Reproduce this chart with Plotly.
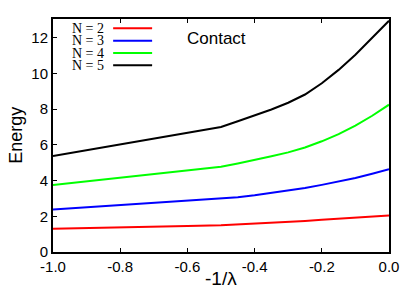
import plotly.graph_objects as go

# Data
x_vals = [-1.0, -0.9, -0.8, -0.7, -0.6, -0.5, -0.45, -0.4, -0.35, -0.3, -0.25, -0.2, -0.15, -0.1, -0.05, 0.0]
e_n2 = [1.30, 1.33, 1.37, 1.41, 1.45, 1.50, 1.54, 1.59, 1.64, 1.69, 1.74, 1.80, 1.86, 1.92, 1.98, 2.04]
e_n3 = [2.38, 2.50, 2.61, 2.73, 2.85, 2.97, 3.07, 3.18, 3.30, 3.43, 3.58, 3.76, 3.95, 4.15, 4.38, 4.63]
e_n4 = [3.75, 3.95, 4.15, 4.35, 4.56, 4.78, 4.96, 5.15, 5.36, 5.58, 5.85, 6.20, 6.60, 7.08, 7.63, 8.25]
e_n5 = [5.38, 5.71, 6.04, 6.36, 6.69, 7.00, 7.32, 7.64, 7.98, 8.36, 8.82, 9.45, 10.20, 11.05, 11.98, 12.95]

series_names = ["N = 2", "N = 3", "N = 4", "N = 5"]
series_values = [e_n2, e_n3, e_n4, e_n5]
series_colors = ["#ff0000", "#0000ff", "#00ff00", "#000000"]

x_tickvals = [-1.0, -0.8, -0.6, -0.4, -0.2, 0.0]
x_ticktext = ["-1.0", "-0.8", "-0.6", "-0.4", "-0.2", "0.0"]
y_tickvals = [0, 2, 4, 6, 8, 10, 12]
y_ticktext = ["0", "2", "4", "6", "8", "10", "12"]

fig = go.Figure()
for name, vals, col in zip(series_names, series_values, series_colors):
    fig.add_trace(go.Scatter(x=x_vals, y=vals, mode="lines", name=name,
                             line=dict(color=col, width=2), showlegend=False))

sans = "Liberation Sans, Arial, sans-serif"
serif = "Liberation Serif, Times New Roman, serif"

# gnuplot-style legend: text on left, line sample on right
annotations = []
shapes = []
row_y = [0.960, 0.907, 0.854, 0.801]
for name, col, yy in zip(series_names, series_colors, row_y):
    annotations.append(dict(x=0.155, y=yy, xref="paper", yref="paper", text=name,
                            showarrow=False, xanchor="right", yanchor="middle",
                            borderpad=0,
                            font=dict(family=serif, size=14, color="black")))
    shapes.append(dict(type="line", xref="paper", yref="paper", x0=0.179, x1=0.295,
                       y0=yy, y1=yy, line=dict(color=col, width=2)))

annotations.append(dict(x=0.488, y=0.918, xref="paper", yref="paper", text="Contact",
                        showarrow=False, xanchor="center", yanchor="middle",
                        font=dict(family=sans, size=17, color="black")))
annotations.append(dict(x=0.5, y=-0.112, xref="paper", yref="paper", text="-1/λ",
                        showarrow=False, xanchor="center", yanchor="middle",
                        font=dict(family=sans, size=19, color="black")))
annotations.append(dict(x=-0.112, y=0.5, xref="paper", yref="paper", text="Energy",
                        showarrow=False, xanchor="center", yanchor="middle", textangle=-90,
                        borderpad=0,
                        font=dict(family=sans, size=18, color="black")))

# page body has an 8px margin, so margins are compensated
fig.update_layout(
    width=415, height=291,
    margin=dict(l=45, r=34, t=9, b=47, pad=0),
    paper_bgcolor="white", plot_bgcolor="white",
    annotations=annotations, shapes=shapes,
    font=dict(family=sans, size=15, color="black"),
)
fig.update_xaxes(range=[-1.0, 0.0], tickvals=x_tickvals, ticktext=x_ticktext,
                 ticks="inside", ticklen=4, tickwidth=1, tickcolor="black",
                 showline=True, linecolor="black", linewidth=2, mirror="ticks",
                 showgrid=False, zeroline=False,
                 tickfont=dict(family=sans, size=15, color="black"))
fig.update_yaxes(range=[0, 13.05], tickvals=y_tickvals, ticktext=y_ticktext,
                 ticks="inside", ticklen=4, tickwidth=1, tickcolor="black",
                 showline=True, linecolor="black", linewidth=2, mirror=True,
                 showgrid=False, zeroline=False,
                 tickfont=dict(family=sans, size=15, color="black"))

fig.write_html("out.html")
